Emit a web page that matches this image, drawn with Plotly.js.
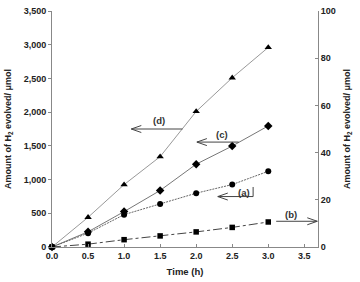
<!DOCTYPE html>
<html><head><meta charset="utf-8">
<script src="https://cdn.plot.ly/plotly-3.0.1.min.js"></script>
<style>html,body{margin:0;padding:0;background:#fff}#c{width:360px;height:282px}</style>
</head><body><div id="c"></div>
<script>
const time = [0, 0.5, 1.0, 1.5, 2.0, 2.5, 3.0];
const seriesD = [0, 440, 925, 1340, 2010, 2510, 2960];   // left axis
const seriesC = [0, 225, 525, 838, 1228, 1497, 1796];    // left axis
const seriesA = [0, 205, 480, 636, 798, 926, 1123];      // left axis
const seriesB = [0, 1.2, 3.1, 4.7, 6.4, 8.3, 10.6];      // right axis
const leftTicks = [0, 500, 1000, 1500, 2000, 2500, 3000, 3500];
const rightTicks = [0, 20, 40, 60, 80, 100];
const xTicks = [0, 0.5, 1.0, 1.5, 2.0, 2.5, 3.0, 3.5];
const labels = ['(d)', '(c)', '(a)', '(b)'];

const FONT = 'Liberation Sans, Arial, sans-serif';
function tr(y, sym, size, col, dash, yaxis) {
  return {x: time, y: y, type: 'scatter', mode: 'lines+markers', yaxis: yaxis || 'y',
    cliponaxis: false,
    line: {color: col, width: 1, dash: dash},
    marker: {symbol: sym, size: size, color: '#000'}};
}
const data = [
  tr(seriesD, 'triangle-up', 6.5, '#999', 'solid'),
  tr(seriesC, 'diamond', 6.5, '#777', 'solid'),
  tr(seriesA, 'circle', 6, '#666', '2px,1px'),
  tr(seriesB, 'square', 5.5, '#444', 'dashdot', 'y2')
];

const AC = '#444';
// arrow: straight line from tail to tip, plus an open chevron head at the tip
function arrowShapes(tipX, tailX, y, yref, dir) {
  const s = dir < 0 ? 1 : -1; // head legs go back toward the tail
  return [
    {type: 'line', xref: 'x', yref: yref, x0: tailX, x1: tipX, y0: y, y1: y, line: {color: AC, width: 1}},
    {type: 'path', xref: 'x', yref: yref, xsizemode: 'pixel', ysizemode: 'pixel', xanchor: tipX, yanchor: y,
     path: 'M' + (s * 10) + ',3.5 L0,0 L' + (s * 10) + ',-3.5', line: {color: AC, width: 1}}
  ];
}
function lab(t, x, y, yref) {
  return {x: x, y: y, xref: 'x', yref: yref, text: '<b>' + t + '</b>', showarrow: false,
    font: {family: FONT, size: 9.5, color: '#333'}};
}
const annotations = [
  lab(labels[0], 1.48, 1880, 'y'),
  lab(labels[1], 2.36, 1670, 'y'),
  lab(labels[2], 2.67, 815, 'y'),
  lab(labels[3], 3.32, 13.6, 'y2')
];
const shapes = [].concat(
  arrowShapes(1.10, 1.81, 1750, 'y', -1),
  arrowShapes(2.01, 2.59, 1556, 'y', -1),
  arrowShapes(2.30, 2.79, 748, 'y', -1),
  arrowShapes(3.68, 3.11, 10.9, 'y2', 1),
  [{type: 'line', xref: 'x', yref: 'y', x0: 2.79, x1: 2.79, y0: 748, y1: 890, line: {color: AC, width: 1}}]
);

const axisCommon = {showgrid: false, zeroline: false, showline: true, linecolor: '#888', linewidth: 1,
  tickcolor: '#888', ticklen: 3, tickfont: {family: FONT, size: 9, color: '#222', weight: 'bold'}};

const layout = {
  width: 360, height: 282,
  margin: {l: 52, r: 42, t: 11, b: 35},
  paper_bgcolor: '#fff', plot_bgcolor: '#fff',
  showlegend: false,
  xaxis: Object.assign({}, axisCommon, {range: [0, 3.69], tickvals: xTicks, tickformat: '.1f', ticks: 'inside',
    title: {text: '<b>Time (h)</b>', font: {family: FONT, size: 9.5, color: '#222'}, standoff: 8}}),
  yaxis: Object.assign({}, axisCommon, {range: [0, 3500], tickvals: leftTicks, tickformat: ',.0f', ticks: 'outside',
    title: {text: '<b>Amount of H<sub>2</sub> evolved/ μmol</b>', font: {family: FONT, size: 9, color: '#222'}, standoff: 10}}),
  yaxis2: Object.assign({}, axisCommon, {range: [0, 100], tickvals: rightTicks, overlaying: 'y', side: 'right',
    ticks: 'inside',
    title: {text: '<b>Amount of H<sub>2</sub> evolved/ μmol</b>', font: {family: FONT, size: 9, color: '#222'}, standoff: 8}}),
  annotations: annotations,
  shapes: shapes
};
Plotly.newPlot('c', data, layout, {staticPlot: true, displayModeBar: false});
</script></body></html>
